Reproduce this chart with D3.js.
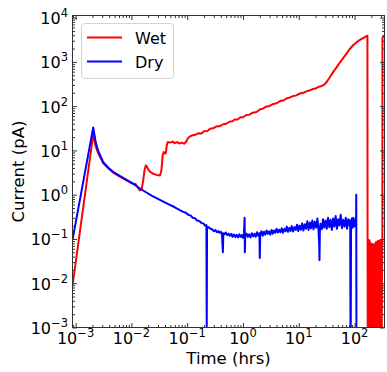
<!DOCTYPE html>
<html lang="en">
<head>
<meta charset="utf-8">
<title>Current vs time</title>
<style>
  body { margin: 0; background: #fff; }
  svg { display: block; font-family: "DejaVu Sans", sans-serif; }
</style>
</head>
<body>
<script src="https://d3js.org/d3.v7.min.js"></script>
<script>
// values: [time (hrs), current (pA)]
const wetData = [
  [0.00088, 0.0088], [0.00207, 23], [0.00228, 12.5], [0.00255, 8.6], [0.00313, 5.1],
  [0.0039, 3.9], [0.0047, 3.15], [0.0062, 2.55], [0.0082, 2.1], [0.0102, 1.8],
  [0.0118, 1.75], [0.0128, 1.5], [0.0142, 1.25], [0.0152, 1.3], [0.0162, 2.0],
  [0.0172, 3.6], [0.0182, 4.6], [0.0195, 4.0], [0.021, 3.4], [0.024, 3.0],
  [0.028, 2.8], [0.0325, 2.7], [0.0345, 3.5], [0.0365, 8.0], [0.038, 9.2],
  [0.040, 8.4], [0.0415, 8.8], [0.043, 13], [0.045, 15.5], [0.05, 15],
  [0.055, 15.8], [0.06, 14.6], [0.066, 15.4], [0.072, 14.3], [0.08, 15],
  [0.088, 14.2], [0.095, 15.5], [0.102, 18.5], [0.11, 20.5], [0.125, 22],
  [0.14, 22.5], [0.16, 24.5], [0.18, 24], [0.2, 27], [0.23, 27.5],
  [0.26, 31], [0.29, 31.5], [0.33, 34.5], [0.38, 35], [0.44, 39],
  [0.5, 40], [0.58, 45], [0.65, 45.5], [0.71, 50], [0.8, 50],
  [0.9, 56], [1.0, 56], [1.15, 63], [1.3, 64], [1.5, 71],
  [1.75, 74], [2.0, 84], [2.26, 88], [2.6, 97], [3.0, 101],
  [3.5, 112], [4.0, 116], [4.6, 130], [5.3, 134], [6.1, 150],
  [6.8, 155], [7.8, 168], [9.0, 175], [10.5, 193], [12, 200],
  [14, 218], [16, 228], [17.6, 243], [20, 250], [23, 275],
  [26, 285], [29, 310], [32, 360], [36, 450], [41, 580],
  [47.5, 750], [54, 950], [62, 1200], [71.8, 1550], [82, 1950],
  [95, 2400], [108, 2750], [125, 3150], [145, 3500], [160, 3750],
  [170, 3900], [171, 0.08], [172, 0.0008], [174, 0.09], [176, 0.0008],
  [178, 0.085], [180, 0.0008], [182, 0.095], [185, 0.0008], [187, 0.09],
  [190, 0.0008], [193, 0.08], [196, 0.0008], [199, 0.075], [202, 0.0008],
  [205, 0.078], [209, 0.0008], [212, 0.07], [216, 0.0008], [219, 0.075],
  [223, 0.0008], [227, 0.072], [231, 0.0008], [235, 0.08], [239, 0.0008],
  [243, 0.085], [247, 0.0008], [252, 0.082], [256, 0.0008], [261, 0.09],
  [266, 0.0008], [271, 0.086], [276, 0.0008], [281, 0.092], [286, 0.0008],
  [291, 0.09], [296, 0.0008], [302, 0.095], [307, 0.0008], [312, 0.09],
  [315, 0.1], [316, 3500], [325, 3650], [345, 3750]
];

const dryData = [
  [0.00088, 0.095], [0.00207, 33], [0.0023, 15], [0.00255, 9.6], [0.00313, 5.4],
  [0.0039, 4.0], [0.0047, 3.3], [0.0062, 2.65], [0.0082, 2.15], [0.0105, 1.8],
  [0.0125, 1.55], [0.0142, 1.38], [0.018, 1.15], [0.023, 0.95], [0.0324, 0.76],
  [0.045, 0.62], [0.06, 0.52], [0.0738, 0.45], [0.085, 0.41], [0.095, 0.39],
  [0.105, 0.35], [0.115, 0.34], [0.126, 0.30], [0.14, 0.29], [0.15, 0.26],
  [0.165, 0.255], [0.18, 0.23], [0.195, 0.225], [0.21, 0.2], [0.221, 0.205],
  [0.224, 0.0008], [0.227, 0.19], [0.24, 0.185], [0.26, 0.17], [0.28, 0.165],
  [0.30, 0.15], [0.32, 0.158], [0.34, 0.142], [0.36, 0.15], [0.38, 0.138],
  [0.40, 0.146], [0.42, 0.131], [0.436, 0.05], [0.445, 0.135], [0.47, 0.128],
  [0.49, 0.14], [0.52, 0.122], [0.55, 0.132], [0.58, 0.118], [0.62, 0.13],
  [0.65, 0.112], [0.69, 0.126], [0.73, 0.11], [0.77, 0.124], [0.82, 0.108],
  [0.86, 0.128], [0.91, 0.112], [0.96, 0.122], [1.0, 0.106], [1.04, 0.13],
  [1.07, 0.3], [1.08, 0.05], [1.1, 0.118], [1.16, 0.132], [1.22, 0.112],
  [1.29, 0.127], [1.36, 0.108], [1.44, 0.135], [1.52, 0.115], [1.6, 0.13],
  [1.69, 0.112], [1.78, 0.142], [1.88, 0.118], [1.97, 0.135], [2.0, 0.037],
  [2.04, 0.125], [2.15, 0.15], [2.26, 0.118], [2.38, 0.145], [2.5, 0.125],
  [2.64, 0.155], [2.78, 0.13], [2.93, 0.148], [3.08, 0.125], [3.25, 0.16],
  [3.42, 0.132], [3.6, 0.155], [3.8, 0.138], [4.0, 0.17], [4.2, 0.14],
  [4.45, 0.162], [4.7, 0.142], [4.95, 0.175], [5.2, 0.138], [5.5, 0.168],
  [5.8, 0.15], [6.1, 0.19], [6.4, 0.145], [6.8, 0.178], [7.1, 0.152],
  [7.5, 0.195], [7.9, 0.148], [8.35, 0.185], [8.8, 0.16], [9.3, 0.21],
  [9.8, 0.15], [10.3, 0.2], [10.9, 0.162], [11.5, 0.225], [12.1, 0.155],
  [12.8, 0.215], [13.5, 0.17], [14.2, 0.25], [15.0, 0.16], [15.8, 0.235],
  [16.6, 0.175], [17.5, 0.26], [18.4, 0.165], [19.4, 0.245], [20.5, 0.18],
  [21.6, 0.29], [22.5, 0.17], [23.2, 0.08], [23.5, 0.033], [23.9, 0.15],
  [24.5, 0.22], [25.8, 0.165], [27.2, 0.28], [28.6, 0.18], [30.2, 0.26],
  [31.8, 0.17], [33.5, 0.3], [35.3, 0.185], [37.2, 0.27], [39.2, 0.16],
  [41.3, 0.29], [43.5, 0.19], [45.8, 0.33], [48.3, 0.17], [50.9, 0.28],
  [53.6, 0.2], [56.5, 0.35], [59.5, 0.175], [62.7, 0.27], [66.1, 0.19],
  [69.6, 0.3], [73.3, 0.17], [77.3, 0.28], [81.4, 0.2], [83.5, 0.26],
  [84.5, 0.0008], [85.5, 0.0008], [86.5, 0.19], [89, 0.29], [92, 0.18],
  [95, 0.3], [98, 0.19], [101, 0.27], [104, 0.2], [106.5, 0.26],
  [107.3, 1.0], [108, 0.0008]
];

const seriesNames = ["Wet", "Dry"];
const xTickExp = [-3, -2, -1, 0, 1, 2];
const yTickExp = [-3, -2, -1, 0, 1, 2, 3, 4];

const W = 387, H = 372;
const pLeft = 72.5, pRight = 384.5, pTop = 15.5, pBottom = 327.5;
const colors = ["#ff0000", "#0000ff"];

const svg = d3.select("body").append("svg")
    .attr("width", W)
    .attr("height", H);

const x = d3.scaleLog().domain([0.00088, 344]).range([pLeft, pRight]);
const y = d3.scaleLog().domain([1e-3, 11150]).range([pBottom, pTop]);

svg.append("clipPath").attr("id", "plotclip")
  .append("rect")
    .attr("x", pLeft).attr("y", pTop)
    .attr("width", pRight - pLeft).attr("height", pBottom - pTop);

const line = d3.line()
    .x(d => x(d[0]))
    .y(d => y(d[1]));

// series (wet under dry)
[wetData, dryData].forEach((data, i) => {
  svg.append("path")
      .datum(data)
      .attr("clip-path", "url(#plotclip)")
      .attr("fill", "none")
      .attr("stroke", colors[i])
      .attr("stroke-width", 2)
      .attr("stroke-linejoin", "round")
      .attr("d", line);
});

// ticks, all pointing inward
const xMajor = xTickExp.map(e => Math.pow(10, e));
const yMajor = yTickExp.map(e => Math.pow(10, e));
const isMajor = (v, majors) => majors.some(m => Math.abs(v - m) / m < 1e-9);
const xMinor = x.ticks().filter(v => !isMajor(v, xMajor));
const yMinor = y.ticks().filter(v => !isMajor(v, yMajor));

function addAxis(axisFn, scale, major, minor, tx, ty) {
  [[major, 4.5], [minor, 2.5]].forEach(([vals, len]) => {
    svg.append("g")
        .attr("transform", "translate(" + tx + "," + ty + ")")
        .attr("color", "#333")
        .call(axisFn(scale).tickValues(vals).tickSize(-len).tickFormat(""))
        .call(g => g.select(".domain").remove());
  });
}
addAxis(d3.axisBottom, x, xMajor, xMinor, 0, pBottom);
addAxis(d3.axisTop, x, xMajor, xMinor, 0, pTop);
addAxis(d3.axisLeft, y, yMajor, yMinor, pLeft, 0);
addAxis(d3.axisRight, y, yMajor, yMinor, pRight, 0);

// frame
svg.append("rect")
    .attr("x", pLeft).attr("y", pTop)
    .attr("width", pRight - pLeft).attr("height", pBottom - pTop)
    .attr("fill", "none")
    .attr("stroke", "#333")
    .attr("stroke-width", 1);

function powLabel(t, e) {
  t.append("tspan").text("10");
  t.append("tspan")
      .attr("dy", -7)
      .attr("font-size", 11.5)
      .text(e < 0 ? "\u2212" + (-e) : String(e));
}

// x tick labels
xTickExp.forEach(e => {
  const t = svg.append("text")
      .attr("x", x(Math.pow(10, e)))
      .attr("y", 343.5)
      .attr("text-anchor", "middle")
      .attr("font-size", 16)
      .attr("fill", "#000");
  powLabel(t, e);
});

// y tick labels
yTickExp.forEach(e => {
  const t = svg.append("text")
      .attr("x", 68)
      .attr("y", y(Math.pow(10, e)) + 6.5)
      .attr("text-anchor", "end")
      .attr("font-size", 16)
      .attr("fill", "#000");
  powLabel(t, e);
});

// axis titles
svg.append("text")
    .attr("x", (pLeft + pRight) / 2)
    .attr("y", 363.5)
    .attr("text-anchor", "middle")
    .attr("font-size", 16.5)
    .text("Time (hrs)");

svg.append("text")
    .attr("transform", "translate(24," + ((pTop + pBottom) / 2) + ")rotate(-90)")
    .attr("text-anchor", "middle")
    .attr("font-size", 16.5)
    .text("Current (pA)");

// legend
const legend = svg.append("g");
legend.append("rect")
    .attr("x", 81.5).attr("y", 23.5)
    .attr("width", 92).attr("height", 55)
    .attr("rx", 3)
    .attr("fill", "#fff")
    .attr("fill-opacity", 0.8)
    .attr("stroke", "#d3d3d3");

seriesNames.forEach((name, i) => {
  const ly = 37.5 + i * 24;
  legend.append("line")
      .attr("x1", 87).attr("x2", 122)
      .attr("y1", ly).attr("y2", ly)
      .attr("stroke", colors[i])
      .attr("stroke-width", 2);
  legend.append("text")
      .attr("x", 135)
      .attr("y", ly + 6)
      .attr("font-size", 16)
      .text(name);
});
</script>
</body>
</html>
